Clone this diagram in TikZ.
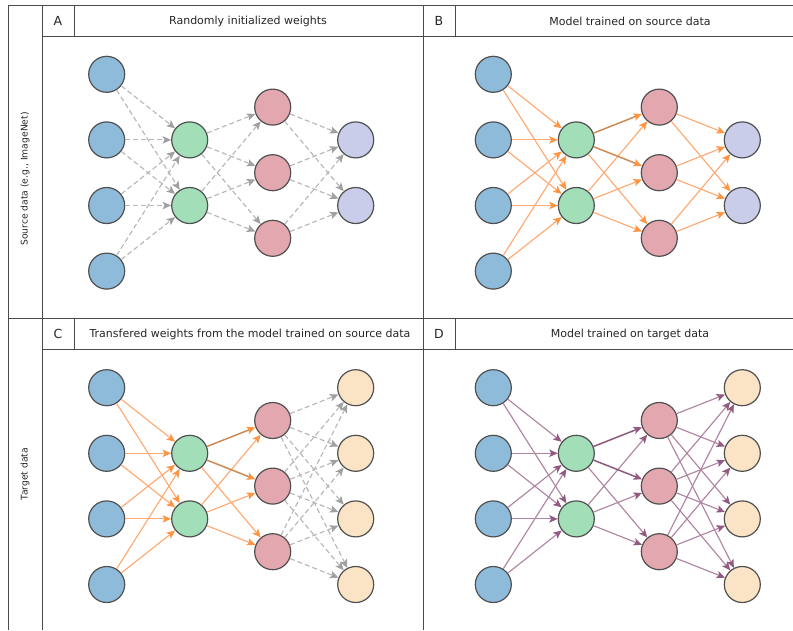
\documentclass[tikz,border=0pt]{standalone}
\usepackage{fontspec}
\setmainfont{DejaVu Sans}
\usetikzlibrary{arrows.meta}
\definecolor{cblue}{HTML}{8FBBDA}
\definecolor{cgreen}{HTML}{A2DFB8}
\definecolor{cred}{HTML}{E3A8AF}
\definecolor{clav}{HTML}{C9CDEA}
\definecolor{cpeach}{HTML}{FBE3C5}
\definecolor{cborder}{HTML}{505050}
\definecolor{cframe}{HTML}{4A4A4A}
\definecolor{orline}{HTML}{FFAA72}
\definecolor{orhead}{HTML}{FF9442}
\definecolor{ordark}{HTML}{CC8A55}
\definecolor{grline}{HTML}{B8B8B8}
\definecolor{grhead}{HTML}{A0A0A0}
\definecolor{puline}{HTML}{B085A2}
\definecolor{puhead}{HTML}{925A80}
\definecolor{pudark}{HTML}{8E5A7C}
\tikzset{
  neuron/.style={circle, draw=cborder, line width=1.2pt, minimum size=36pt, inner sep=0pt},
  frame/.style={draw=cframe, line width=0.9pt},
  hdr/.style={font=\fontsize{11}{13}\selectfont, inner sep=0pt, text=black!85},
  ltr/.style={font=\fontsize{12.5}{14}\selectfont, inner sep=0pt, text=black!85},
  side/.style={font=\fontsize{9.2}{11}\selectfont, inner sep=0pt, rotate=90, text=black!85},
  grayedge/.style={draw=grline, line width=1.15pt, dash pattern=on 5pt off 3pt, -{Stealth[length=8.5pt,width=7.5pt,inset=2pt,color=grhead]}},
  oredge/.style={draw=orline, line width=1.15pt, -{Stealth[length=8.5pt,width=7.5pt,inset=2pt,color=orhead]}},
  ordarkedge/.style={draw=ordark, line width=1.5pt, -{Stealth[length=8.5pt,width=7.5pt,inset=2pt,color=orhead]}},
  puedge/.style={draw=puline, line width=1.15pt, -{Stealth[length=8.5pt,width=7.5pt,inset=2pt,color=puhead]}},
  pudarkedge/.style={draw=pudark, line width=1.5pt, -{Stealth[length=8.5pt,width=7.5pt,inset=2pt,color=puhead]}},
}
% #1 prefix, #2 x, #3 y, #4 output count (2 or 4), #5 output colour
\newcommand{\mynet}[5]{%
  \begin{scope}[shift={(#2,#3)}]
    \foreach \k in {1,...,4} \node[neuron, fill=cblue] (#1i\k) at (0,{(\k-1)*65.6}) {};
    \foreach \k in {1,2} \node[neuron, fill=cgreen] (#1g\k) at (83,{\k*65.6}) {};
    \foreach \k in {1,2,3} \node[neuron, fill=cred] (#1r\k) at (166,{(\k-0.5)*65.6}) {};
    \ifnum#4=2
      \foreach \k in {1,2} \node[neuron, fill=#5] (#1o\k) at (249,{\k*65.6}) {};
    \else
      \foreach \k in {1,...,4} \node[neuron, fill=#5] (#1o\k) at (249,{(\k-1)*65.6}) {};
    \fi
  \end{scope}}
% #1 prefix, #2 style in->green, #3 style green->red, #4 dark style g1->r1/r2, #5 style red->out, #6 out count
\newcommand{\myedges}[6]{%
  \foreach \a in {1,...,4} \foreach \b in {1,2} \draw[#2] (#1i\a) -- (#1g\b);
  \foreach \b in {1,2,3} \draw[#3] (#1g2) -- (#1r\b);
  \draw[#3] (#1g1) -- (#1r3);
  \draw[#4] (#1g1) -- (#1r1);
  \draw[#4] (#1g1) -- (#1r2);
  \foreach \a in {1,2,3} \foreach \b in {1,...,#6} \draw[#5] (#1r\a) -- (#1o\b);
}
\begin{document}
\begin{tikzpicture}[x=1pt, y=-1pt]
\useasboundingbox (0,0) rectangle (793,630);
\fill[white] (0,0) rectangle (793,630);
% table frame
\draw[frame] (8,5) -- (793,5);
\draw[frame] (42,36) -- (793,36);
\draw[frame] (8,318) -- (793,318);
\draw[frame] (42,349) -- (793,349);
\draw[frame] (8,5) -- (8,630);
\draw[frame] (42,5) -- (42,630);
\draw[frame] (423,5) -- (423,630);
\draw[frame] (74,5) -- (74,36);
\draw[frame] (455,5) -- (455,36);
\draw[frame] (74,318) -- (74,349);
\draw[frame] (455,318) -- (455,349);
% headers
\node[ltr] (lA) at (58,21) {A};
\node[hdr] (tA) at (248,21) {Randomly initialized weights};
\node[ltr] (lB) at (439,21) {B};
\node[hdr] (tB) at (630,21) {Model trained on source data};
\node[ltr] (lC) at (58,334) {C};
\node[hdr] (tC) at (250,334) {Transfered weights from the model trained on source data};
\node[ltr] (lD) at (439,334) {D};
\node[hdr] (tD) at (630,334) {Model trained on target data};
\node[side] (sS) at (25,179) {Source data (e.g., ImageNet)};
\node[side] (sT) at (25,474) {Target data};
% networks
\mynet{A}{106.7}{74.3}{2}{clav}
\mynet{B}{493.3}{74.3}{2}{clav}
\mynet{C}{106.7}{387.7}{4}{cpeach}
\mynet{D}{493.3}{387.7}{4}{cpeach}
\myedges{A}{grayedge}{grayedge}{grayedge}{grayedge}{2}
\myedges{B}{oredge}{oredge}{ordarkedge}{oredge}{2}
\myedges{C}{oredge}{oredge}{ordarkedge}{grayedge}{4}
\myedges{D}{puedge}{puedge}{pudarkedge}{puedge}{4}
\end{tikzpicture}
\end{document}
